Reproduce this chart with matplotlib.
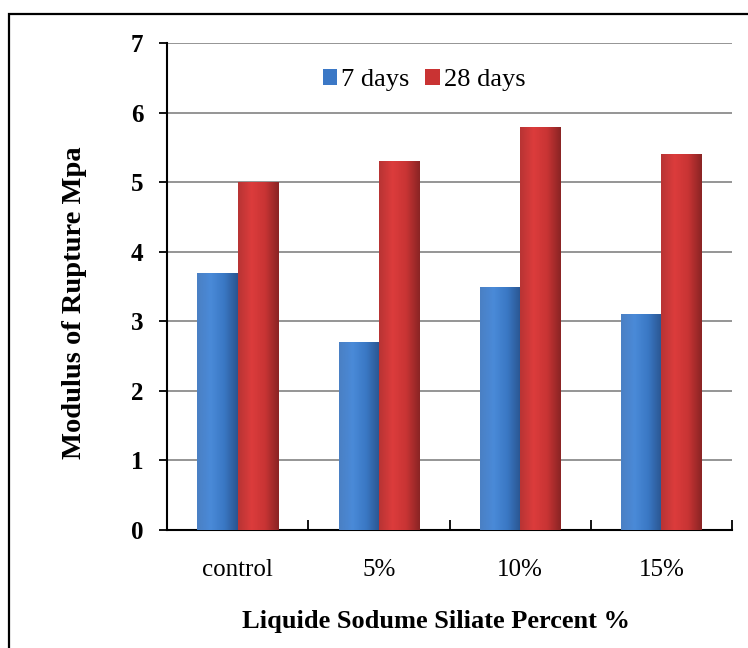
import matplotlib
matplotlib.use('Agg')
import matplotlib.pyplot as plt
import numpy as np
from matplotlib.colors import LinearSegmentedColormap
from matplotlib.patches import Rectangle

plt.rcParams['font.family'] = ['Liberation Serif', 'DejaVu Serif']

# data
categories = ['control', '5%', '10%', '15%']
days7 = [3.7, 2.7, 3.5, 3.1]
days28 = [5.0, 5.3, 5.8, 5.4]
series_names = ['7 days', '28 days']

fig = plt.figure(figsize=(7.48, 6.48), dpi=100)
ax = fig.add_axes([0.2233, 0.182, 0.7553, 0.7516])

x = np.arange(len(categories))
w = 0.285
b1 = ax.bar(x - w / 2, days7, w, color='#3b78c6', label=series_names[0], zorder=3)
b2 = ax.bar(x + w / 2, days28, w, color='#c93333', label=series_names[1], zorder=3)

# horizontal shading to mimic the 3D look
blue_cm = LinearSegmentedColormap.from_list('b', ['#4a80c4', '#4a8ad8', '#3a78c4', '#2a5590'])
red_cm = LinearSegmentedColormap.from_list('r', ['#b83434', '#dc3c3c', '#c83434', '#8a2424'])
grad = np.linspace(0, 1, 64).reshape(1, -1)
for bars, cm in ((b1, blue_cm), (b2, red_cm)):
    for p in bars:
        x0, y0 = p.get_x(), p.get_y()
        im = ax.imshow(grad, cmap=cm, aspect='auto', zorder=4,
                       extent=(x0, x0 + p.get_width(), y0, y0 + p.get_height()))
        im.set_clip_path(p)

ax.set_xlim(-0.5, len(categories) - 0.5)
ax.set_ylim(0, 7)
ax.set_yticks(range(0, 8))
ax.grid(axis='y', color='#8c8c8c', linewidth=1.3, zorder=0)
ax.set_axisbelow(True)

ax.set_xticks(np.arange(len(categories) + 1) - 0.5)
ax.set_xticklabels([])
ax.set_xticks(x, minor=True)
ax.set_xticklabels(categories, minor=True, fontsize=18)
ax.tick_params(axis='x', which='minor', length=0, pad=21)
ax.tick_params(axis='x', which='major', length=7, width=1.3, direction='in')
ax.tick_params(axis='y', length=6, width=1.3, direction='out', pad=11)
for lab in ax.get_yticklabels():
    lab.set_fontsize(18)
    lab.set_fontweight('bold')

for s in ('top', 'right'):
    ax.spines[s].set_visible(False)
for s in ('left', 'bottom'):
    ax.spines[s].set_linewidth(1.5)

ax.set_ylabel('Modulus of Rupture Mpa', fontsize=20.5, fontweight='bold')
ax.yaxis.set_label_coords(-0.163, 0.466)
ax.yaxis.label.set_verticalalignment('center')
ax.set_xlabel('Liquide Sodume Siliate Percent %', fontsize=19, fontweight='bold')
ax.xaxis.set_label_coords(0.476, -0.187)
ax.xaxis.label.set_verticalalignment('center')

leg = ax.legend(loc='upper center', bbox_to_anchor=(0.455, 0.995), ncol=2, frameon=False,
                fontsize=19, handlelength=0.55, handleheight=0.55, handletextpad=0.15,
                columnspacing=0.6)

# outer frame
fig.patches.append(Rectangle((9 / 748, -0.05), 1.1, 1 - 14 / 648 + 0.05,
                             transform=fig.transFigure, fill=False,
                             edgecolor='black', linewidth=1.6))

fig.savefig('out.png', dpi=100)
